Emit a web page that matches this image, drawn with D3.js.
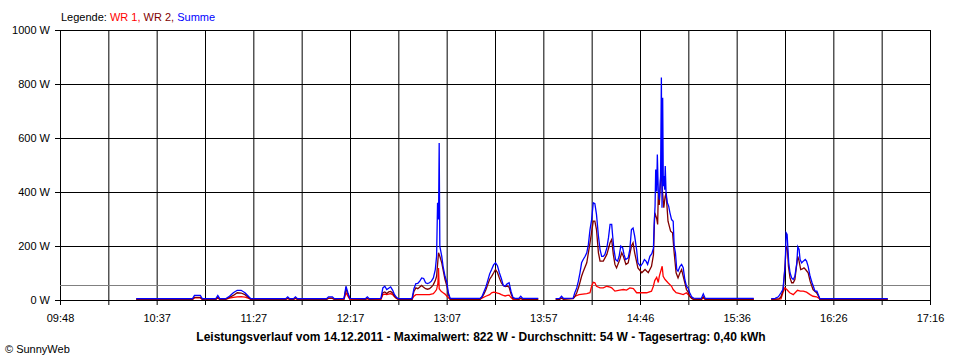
<!DOCTYPE html>
<html>
<head>
<meta charset="utf-8">
<script src="https://cdn.jsdelivr.net/npm/d3@7"></script>
<style>
  html, body { margin: 0; padding: 0; background: #fff; }
  svg { display: block; font-family: "Liberation Sans", Arial, sans-serif; }
</style>
</head>
<body>
<svg id="chart" width="960" height="360"></svg>
<script>
// ---------- data ----------
const dayStart = "09:48";
const dayEnd = "17:16";
const xTickLabels = ["09:48", "10:37", "11:27", "12:17", "13:07", "13:57", "14:46", "15:36", "16:26", "17:16"];
const yTickValues = [0, 200, 400, 600, 800, 1000];
const average = 54;
const titleText = "Leistungsverlauf vom 14.12.2011 - Maximalwert: 822 W - Durchschnitt: 54 W - Tagesertrag: 0,40 kWh";
const legendItems = [
  { text: "WR 1, ", color: "#ff0000" },
  { text: "WR 2, ", color: "#800000" },
  { text: "Summe", color: "#0000ff" }
];

// WR 1 (red)
const wr1 = [
  ["10:27",1],["10:56",1],["10:57",6],["11:00",6],["11:01",1],["11:08",1],["11:09",6],["11:10",1],
  ["11:13",1],["11:15",5],["11:17",8],["11:19",10],["11:21",11],["11:23",9],["11:25",4],["11:26",1],
  ["11:44",1],["11:45",4],["11:46",1],["11:48",1],["11:49",4],["11:50",1],["12:05",1],["12:06",4],
  ["12:08",4],["12:09",1],["12:14",1],["12:15",25],["12:16",12],["12:17",1],["12:25",1],["12:26",3],
  ["12:27",1],["12:33",1],["12:34",18],["12:35",20],["12:36",18],["12:37",20],["12:38",22],["12:39",18],
  ["12:40",10],["12:41",4],["12:42",1],["12:49",1],["12:50",12],["12:51",18],["12:58",18],["12:59",20],
  ["13:00",22],["13:01",30],["13:01:40",37],["13:02:20",60],["13:02:40",117],["13:03",40],["13:04",30],
  ["13:05",25],["13:06",20],["13:07",12],["13:08",5],["13:08:40",1],["13:24",1],["13:25",5],["13:27",12],
  ["13:29",18],["13:30",25],["13:31",27],["13:32",26],["13:33",24],["13:34",22],["13:35",18],["13:36",15],
  ["13:37",13],["13:38",15],["13:39",16],["13:40",7],["13:41",1],["13:44",1],["13:45",4],["13:46",1],
  ["13:54",1],["13:55",null],["14:03",1],["14:05",3],["14:06",5],["14:07",3],["14:12",4],["14:13",12],
  ["14:15",18],["14:17",20],["14:19",22],["14:20:40",25],["14:21:30",49],["14:22:20",64],["14:23:10",62],
  ["14:24",49],["14:25:50",43],["14:27:30",43],["14:29:20",49],["14:31",46],["14:31:50",43],["14:33:30",31],
  ["14:36",35],["14:37:50",37],["14:39:30",35],["14:41:10",43],["14:43",40],["14:44:40",25],["14:49:50",25],
  ["14:52:20",31],["14:53:20",50],["14:54",70],["14:55",82],["14:55:50",63],["14:56:20",86],["14:57:50",123],
  ["14:58:20",86],["14:59:20",74],["15:00:50",62],["15:02:40",49],["15:03:30",37],["15:05",25],["15:07",22],
  ["15:08:40",18],["15:10:20",25],["15:12",12],["15:13",6],["15:14",1],["15:18",1],["15:19",5],["15:20",1],
  ["15:45",1],["15:46",null],["15:54",1],["15:59",2],["16:00",25],["16:01",43],["16:02",37],["16:03:30",25],
  ["16:05:20",18],["16:07:30",34],["16:09",31],["16:10:30",31],["16:12:10",27],["16:14",18],["16:15:30",12],
  ["16:17:20",10],["16:18:50",3],["16:19",1],["16:54",1]
];

// WR 2 (dark red)
const wr2 = [
  ["10:27",1],["10:56",1],["10:57",8],["11:00",8],["11:01",1],["11:08",1],["11:09",8],["11:10",1],
  ["11:13",1],["11:15",8],["11:17",15],["11:19",25],["11:21",24],["11:23",18],["11:25",6],["11:26",1],
  ["11:44",1],["11:45",5],["11:46",1],["11:48",1],["11:49",5],["11:50",1],["12:05",1],["12:06",5],
  ["12:08",5],["12:09",1],["12:14",2],["12:15",40],["12:16",20],["12:17",2],["12:25",1],["12:26",4],
  ["12:27",1],["12:33",2],["12:34",25],["12:35",28],["12:36",22],["12:37",28],["12:38",30],["12:39",24],
  ["12:40",12],["12:41",5],["12:42",1],["12:49",1],["12:50",30],["12:51",43],["12:52",40],["12:53",46],
  ["12:54",52],["12:55",45],["12:56",40],["12:57",38],["12:58",40],["12:59",46],["13:00",55],["13:01",70],
  ["13:01:40",86],["13:02:40",173],["13:03:20",160],["13:04:20",136],["13:05",111],["13:06",74],["13:07",49],
  ["13:07:40",20],["13:08:40",1],["13:24",1],["13:25",8],["13:26",20],["13:27",35],["13:28",55],["13:29",75],
  ["13:30",86],["13:31",98],["13:32",111],["13:33",100],["13:34",80],["13:35",62],["13:36",52],["13:37",48],
  ["13:38",50],["13:39",46],["13:40",20],["13:41",3],["13:44",1],["13:45",4],["13:46",1],["13:54",1],
  ["13:55",null],["14:03",1],["14:05",1],["14:06",5],["14:07",1],["14:12",3],["14:13",12],["14:13:50",25],
  ["14:15",50],["14:16:20",86],["14:17",100],["14:19",136],["14:20:40",210],["14:22:20",290],["14:23:10",290],
  ["14:24",259],["14:25",173],["14:25:50",142],["14:27:30",142],["14:29:20",167],["14:31",210],["14:31:50",222],
  ["14:32:40",167],["14:33:30",130],["14:34:20",117],["14:36",148],["14:37",173],["14:37:50",160],["14:39:10",130],
  ["14:40:20",136],["14:42",198],["14:42:50",210],["14:43:40",173],["14:45:20",117],["14:47:20",99],["14:49",111],
  ["14:50:40",99],["14:52:20",123],["14:53:20",165],["14:54",321],["14:55",300],["14:55:30",278],["14:55:50",395],
  ["14:56:20",350],["14:57",444],["14:57:30",463],["14:58",400],["14:58:40",340],["14:59:20",380],["14:59:50",395],
  ["15:00:50",290],["15:02:10",253],["15:03:10",247],["15:04",173],["15:05",99],["15:06",80],["15:07",99],
  ["15:07:50",111],["15:08:40",86],["15:09:30",62],["15:10:20",37],["15:11:20",25],["15:12",12],["15:13",4],
  ["15:14",1],["15:18",1],["15:19",10],["15:20",1],["15:45",1],["15:46",null],["15:54",1],["15:58",2],
  ["15:59",10],["16:00:10",37],["16:01:10",136],["16:01:40",198],["16:02:20",185],["16:02:50",123],["16:03:40",80],
  ["16:04:30",62],["16:05:20",62],["16:06:10",74],["16:07",123],["16:07:40",160],["16:08:20",142],["16:09:10",111],
  ["16:10",113],["16:10:50",117],["16:11:40",111],["16:13",99],["16:14",68],["16:15:30",37],["16:17:20",25],
  ["16:18:50",6],["16:19",1],["16:54",1]
];

// Summe (blue)
const summe = [
  ["10:27",3],["10:56",3],["10:57",15],["11:00",15],["11:01",3],["11:08",3],["11:09",15],["11:10",3],
  ["11:13",3],["11:15",12],["11:17",25],["11:19",34],["11:21",34],["11:23",25],["11:25",10],["11:26",3],
  ["11:44",3],["11:45",10],["11:46",3],["11:48",3],["11:49",10],["11:50",3],["12:05",3],["12:06",10],
  ["12:08",10],["12:09",3],["12:14",4],["12:15",49],["12:16",25],["12:17",4],["12:25",3],["12:26",10],
  ["12:27",3],["12:33",4],["12:34",43],["12:35",49],["12:36",37],["12:37",42],["12:38",47],["12:39",35],
  ["12:40",18],["12:41",8],["12:42",3],["12:49",3],["12:50",40],["12:51",59],["12:52",60],["12:53",68],
  ["12:54",80],["12:55",78],["12:56",62],["12:57",59],["12:58",62],["12:59",68],["13:00",80],["13:01",111],
  ["13:01:40",160],["13:02:10",358],["13:02:40",296],["13:03",580],["13:03:20",197],["13:04:20",160],
  ["13:05",123],["13:06",86],["13:07",63],["13:07:40",26],["13:08:40",4],["13:24",4],["13:25",10],["13:26",28],
  ["13:27",45],["13:28",70],["13:29",95],["13:30",111],["13:31",128],["13:32",136],["13:33",125],["13:34",99],
  ["13:35",78],["13:36",52],["13:37",49],["13:38",58],["13:39",62],["13:40",30],["13:41",8],["13:42",4],
  ["13:44",4],["13:45",12],["13:46",4],["13:54",4],["13:55",null],["14:03",3],["14:05",4],["14:06",12],
  ["14:07",4],["14:12",5],["14:12:50",25],["14:13:50",43],["14:14:40",68],["14:15:30",99],["14:16:20",136],
  ["14:17:10",148],["14:18:10",160],["14:19",173],["14:19:50",204],["14:20:40",259],["14:21:30",296],
  ["14:22:20",358],["14:23:10",355],["14:24",315],["14:25",235],["14:25:50",185],["14:26:40",160],
  ["14:27:30",160],["14:28:20",167],["14:29:20",191],["14:30:10",228],["14:31",278],["14:31:50",278],
  ["14:32:20",235],["14:33",185],["14:33:50",148],["14:34:50",142],["14:35:40",160],["14:36:30",198],
  ["14:37:30",191],["14:38:10",167],["14:39",148],["14:40:20",154],["14:41:10",185],["14:42",259],
  ["14:42:50",265],["14:43:40",235],["14:44:40",185],["14:45:20",136],["14:46:40",123],["14:47:50",135],
  ["14:48:40",148],["14:49:30",142],["14:50:20",130],["14:51:30",160],["14:52:30",170],["14:53:20",190],
  ["14:53:40",272],["14:54:10",346],["14:54:30",481],["14:55",400],["14:55:20",537],["14:55:50",400],
  ["14:56:20",370],["14:57",457],["14:57:25",822],["14:57:45",340],["14:58:05",747],["14:58:25",420],
  ["14:58:50",457],["14:59:05",407],["14:59:25",494],["14:59:50",395],["15:00:30",358],["15:01:10",346],
  ["15:01:50",321],["15:02:40",296],["15:03:30",290],["15:04",198],["15:04:40",173],["15:05:20",111],
  ["15:06",105],["15:07",123],["15:07:50",130],["15:08:40",118],["15:09:30",74],["15:10:20",49],
  ["15:11:20",40],["15:12",25],["15:13",10],["15:14",5],["15:18",4],["15:19",21],["15:20",4],["15:45",4],
  ["15:46",null],["15:54",3],["15:56",4],["15:57:40",10],["15:59",25],["16:00",37],["16:00:40",86],
  ["16:01:10",123],["16:01:40",247],["16:02:10",241],["16:02:30",198],["16:03",136],["16:03:40",99],
  ["16:04:30",80],["16:05:20",74],["16:06:10",86],["16:07:10",136],["16:07:40",195],["16:08:20",185],
  ["16:08:50",148],["16:09:40",136],["16:10:30",142],["16:11:30",148],["16:12:10",142],["16:13",123],
  ["16:14",86],["16:15",62],["16:15:40",49],["16:16:30",31],["16:17:30",31],["16:18:10",19],["16:19",3],
  ["16:54",3]
];

// ---------- drawing ----------
const parseT = s => {
  const p = s.split(":").map(Number);
  return new Date(2011, 11, 14, p[0], p[1], p[2] || 0);
};

const svg = d3.select("#chart");
const pLeft = 60, pRight = 930, pTop = 30, pBottom = 300;

const x = d3.scaleTime().domain([parseT(dayStart), parseT(dayEnd)]).range([pLeft, pRight]);
const y = d3.scaleLinear().domain([0, 1000]).range([pBottom, pTop]);

// vertical grid positions: every half label interval
const nGrid = (xTickLabels.length - 1) * 2;
const t0 = parseT(dayStart).getTime(), t1 = parseT(dayEnd).getTime();
const gridTimes = d3.range(nGrid + 1).map(i => new Date(t0 + (t1 - t0) * i / nGrid));

const fontFam = "'Liberation Sans', Arial, sans-serif";

// y grid (full-width) + left ticks
svg.append("g")
  .attr("transform", `translate(${pLeft},0)`)
  .call(d3.axisLeft(y).tickValues(yTickValues).tickSize(-(pRight - pLeft)).tickFormat(""))
  .call(g => g.select(".domain").remove())
  .call(g => g.selectAll("line").attr("stroke", "#000"));

svg.append("g")
  .attr("transform", `translate(${pLeft},0)`)
  .call(d3.axisLeft(y).tickValues(yTickValues).tickSize(5).tickPadding(5).tickFormat(d => d + " W"))
  .call(g => g.select(".domain").remove())
  .call(g => g.selectAll("line").attr("stroke", "#000"))
  .call(g => g.selectAll("text").attr("fill", "#000").attr("font-size", 11).attr("font-family", fontFam));

// x grid (full-height) + bottom ticks
svg.append("g")
  .attr("transform", `translate(0,${pBottom})`)
  .call(d3.axisBottom(x).tickValues(gridTimes).tickSize(-(pBottom - pTop)).tickFormat(""))
  .call(g => g.select(".domain").remove())
  .call(g => g.selectAll("line").attr("stroke", "#000"));

svg.append("g")
  .attr("transform", `translate(0,${pBottom})`)
  .call(d3.axisBottom(x).tickValues(gridTimes).tickSize(5).tickPadding(9)
      .tickFormat((d, i) => (i % 2 === 0 ? xTickLabels[i / 2] : "")))
  .call(g => g.select(".domain").remove())
  .call(g => g.selectAll("line").attr("stroke", "#000"))
  .call(g => g.selectAll("text").attr("fill", "#000").attr("font-size", 11).attr("font-family", fontFam));

// average line
svg.append("line")
  .attr("x1", pLeft).attr("x2", pRight)
  .attr("y1", Math.round(y(average)) + 0.5).attr("y2", Math.round(y(average)) + 0.5)
  .attr("stroke", "#808080").attr("stroke-width", 1);

// series lines
const line = d3.line()
  .defined(d => d[1] !== null)
  .x(d => x(parseT(d[0])))
  .y(d => y(d[1]));

const series = [
  { data: wr1, color: "#ff0000" },
  { data: wr2, color: "#800000" },
  { data: summe, color: "#0000ff" }
];
const lg = svg.append("g").attr("transform", "translate(0.5,-0.5)");
series.forEach(s => {
  lg.append("path")
    .datum(s.data)
    .attr("fill", "none")
    .attr("stroke", s.color)
    .attr("stroke-width", 1.3)
    .attr("stroke-linejoin", "miter")
    .attr("d", line);
});

// legend
const leg = svg.append("text")
  .attr("x", 61).attr("y", 21)
  .attr("font-size", 11)
  .attr("font-family", fontFam)
  .attr("xml:space", "preserve");
leg.append("tspan").attr("fill", "#000").text("Legende: ");
legendItems.forEach(it => leg.append("tspan").attr("fill", it.color).text(it.text));

// title
svg.append("text")
  .attr("x", 481).attr("y", 341)
  .attr("text-anchor", "middle")
  .attr("font-size", 12).attr("font-weight", "bold")
  .attr("font-family", fontFam)
  .attr("fill", "#000")
  .text(titleText);

// copyright
svg.append("text")
  .attr("x", 5).attr("y", 353)
  .attr("font-size", 11)
  .attr("font-family", fontFam)
  .attr("fill", "#000")
  .text("© SunnyWeb");
</script>
</body>
</html>
